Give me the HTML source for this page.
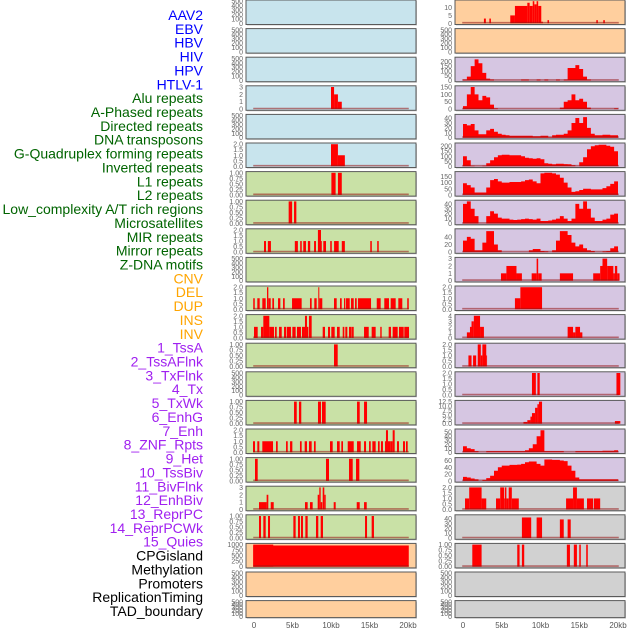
<!DOCTYPE html>
<html><head><meta charset="utf-8"><style>
html,body{margin:0;padding:0;background:#fff;width:630px;height:630px;overflow:hidden}
svg text{font-family:"Liberation Sans",sans-serif}
</style></head><body>
<svg id="chart" width="630" height="630" viewBox="0 0 630 630" xmlns="http://www.w3.org/2000/svg">
<g id="labels"></g>
<g id="panels"></g>
<g id="xaxis"></g>
</svg>
<script>
// ---------- labels ----------
const trackNames = ["AAV2","EBV","HBV","HIV","HPV","HTLV-1","Alu repeats","A-Phased repeats","Directed repeats","DNA transposons","G-Quadruplex forming repeats","Inverted repeats","L1 repeats","L2 repeats","Low_complexity A/T rich regions","Microsatellites","MIR repeats","Mirror repeats","Z-DNA motifs","CNV","DEL","DUP","INS","INV","1_TssA","2_TssAFlnk","3_TxFlnk","4_Tx","5_TxWk","6_EnhG","7_Enh","8_ZNF_Rpts","9_Het","10_TssBiv","11_BivFlnk","12_EnhBiv","13_ReprPC","14_ReprPCWk","15_Quies","CPGisland","Methylation","Promoters","ReplicationTiming","TAD_boundary"];
const trackGroups = ["v","v","v","v","v","v","r","r","r","r","r","r","r","r","r","r","r","r","r","c","c","c","c","c","s","s","s","s","s","s","s","s","s","s","s","s","s","s","s","o","o","o","o","o"];
const groupColors = {v:"#0000ff", r:"#006400", c:"#ffa500", s:"#a020f0", o:"#000000"};

// ---------- x axis ----------
const xTickKb = [0,5,10,15,20];
const xTickLabels = ["0","5kb","10kb","15kb","20kb"];

// ---------- tick sets ----------
const tEmpty = ["0","100","200","300","400","500"];
const t01 = ["0.00","0.25","0.50","0.75","1.00"];
const t02 = ["0.0","0.5","1.0","1.5","2.0"];
const t03 = ["0","1","2","3"];

// ---------- left column data (segments: [startKb, endKb, value]) ----------
const L04 = [[10,10.4,3],[10.4,10.9,2],[10.9,11.4,1]];
const L06 = [[10,10.9,2],[10.9,11.8,1]];
const L07 = [[10.05,10.6,1],[10.9,11.4,1]];
const L08 = [[4.5,4.95,1],[5.2,5.5,1]];
const L09 = [[1.3,1.56,1],[1.8,2.2,1],[5.3,5.7,1],[6.0,6.2,1],[6.4,6.75,1],[7.0,7.3,1],[7.8,8.05,1],[8.3,8.7,2],[8.7,8.8,1],[9.0,9.35,1],[9.9,10.1,1],[10.4,11.0,1],[11.4,11.8,1],[15.1,15.3,1],[16.0,16.2,1]];
const L11 = [[-0.1,0.1,1],[0.43,0.74,1],[1.08,1.52,1],[1.69,1.86,2],[1.86,2.17,1],[2.38,2.6,1],[3.12,3.42,1],[3.77,3.99,1],[4.94,6.19,1],[7.27,7.49,1],[7.83,8.14,1],[8.35,8.48,2],[8.48,8.87,1],[10.39,10.74,1],[11.17,11.39,1],[11.69,11.86,1],[11.95,12.43,1],[12.6,12.95,1],[13.12,13.34,1],[13.5,15.2,1],[15.94,16.45,1],[16.92,17.53,1],[17.75,18.4,1],[18.74,19.26,1],[19.9,20.1,1]];
const L12 = [[0,0.48,1],[0.91,1.21,1],[1.21,1.99,2],[1.99,2.6,1],[2.73,2.95,1],[3.25,3.6,1],[3.9,4.16,1],[4.25,4.8,1],[4.98,5.41,1],[5.58,6.1,1],[6.23,6.62,1],[6.62,6.88,2],[6.88,7.06,1],[7.14,7.49,2],[8.92,9.22,1],[9.61,9.87,1],[10.04,10.48,1],[10.78,11.13,1],[11.52,11.73,1],[11.86,12.12,1],[12.34,12.69,1],[12.73,12.95,1],[14.29,14.9,1],[15.28,15.8,1],[16.4,16.58,1],[17.49,17.79,1],[18.01,18.66,1],[18.83,19.44,1],[19.52,20.13,1]];
const L13 = [[10.39,10.87,1]];
const L15 = [[5.2,5.55,1],[5.84,6.14,1],[8.31,8.7,1],[8.83,9.31,1],[13.38,13.73,1],[14.29,14.68,1]];
const L16 = [[-0.13,0.13,1],[0.43,0.69,1],[1.08,2.47,1],[2.86,3.08,1],[4.16,4.38,1],[4.68,4.98,1],[5.97,6.19,1],[6.58,6.88,1],[7.14,7.49,1],[7.79,8.01,1],[9.87,10.22,1],[10.78,11.13,1],[11.34,11.56,1],[12.17,12.95,1],[13.38,13.86,1],[14.29,14.55,1],[14.94,15.16,1],[15.37,15.8,1],[16.1,16.32,1],[16.49,16.75,1],[17.01,17.14,1],[17.14,17.4,2],[17.4,17.7,1],[17.7,18.01,1],[18.01,18.27,2],[18.57,18.83,1],[19.35,19.61,1],[19.74,19.96,1]];
const L17 = [[0.13,0.48,1],[9.35,9.74,1],[12.34,12.82,1],[13.25,13.68,1]];
const L18 = [[0.65,0.91,1],[0.91,1.64,1],[1.64,1.86,2],[2.17,2.56,1],[6.62,6.97,1],[7.27,7.62,1],[8.27,8.48,2],[8.48,8.66,3],[8.66,8.87,1],[8.92,9.13,3],[9.13,9.31,2],[10.35,10.61,1],[13.34,13.73,1],[14.29,14.64,1]];
const L19 = [[0.65,0.91,1],[1.21,1.52,1],[1.82,2.08,1],[5.11,5.41,1],[5.71,5.97,1],[6.1,6.36,1],[6.67,6.97,1],[8.05,8.35,1],[8.66,8.96,1],[14.42,14.68,1],[15.28,15.58,1]];
const L20 = [[-0.1,20.1,960],[-0.1,2.5,1000]];

// ---------- right column data ----------
// segments
const R01 = [[2.7,2.95,3],[3.4,3.6,3],[6.1,6.7,5],[6.7,8.3,11],[8.3,8.6,13],[8.6,9.0,11],[9.0,9.2,14],[9.2,9.5,12],[9.5,9.7,14],[9.7,10.1,11],[10.1,10.3,1],[10.9,11.1,2],[17.2,17.4,2],[18.1,18.3,2]];
const R10 = [[4.9,5.6,1],[5.6,6.9,2],[6.9,7.6,1],[8.86,9.5,1],[9.5,9.7,3],[9.7,10.15,1],[12.5,14.2,1],[16.8,17.7,1],[17.7,18.0,2],[18.0,18.6,3],[18.6,19.4,2],[19.4,19.6,1],[19.6,19.9,2],[19.9,20.2,1]];
const R11 = [[6.7,7.4,1],[7.4,10.2,2]];
const R12 = [[0.5,0.9,1],[0.9,1.1,2],[1.1,1.4,3],[1.4,2.2,4],[2.2,2.7,2],[13.5,14.2,2],[14.2,14.5,1],[14.5,15.1,2],[15.1,15.4,1]];
const R13 = [[0.7,1.1,1],[1.3,1.7,1],[1.9,2.3,2],[2.3,2.5,1],[2.5,3.0,2],[3.0,3.1,1]];
const R14 = [[8.9,9.4,2],[9.6,9.9,2],[19.8,20.3,2]];
const R15 = [[7.8,8.3,1],[8.3,8.7,2],[8.7,8.9,4],[8.9,9.3,6],[9.3,9.6,9],[9.6,9.8,11],[9.8,10.2,12.5],[19.6,20.3,1.5]];
const R18 = [[0.26,0.8,1],[0.8,2.4,2],[2.4,3.0,1],[4.26,4.8,1],[4.8,5.3,2],[5.3,5.4,1],[5.4,5.6,2],[5.6,5.9,1],[5.9,6.3,2],[6.3,7.2,1],[13.3,14.2,1],[14.2,14.7,2],[14.7,15.6,1],[16.0,16.8,1],[16.9,17.7,1]];
const R19 = [[7.6,8.8,42],[9.5,10.2,42],[12.5,13.0,38],[13.5,13.9,38]];
const R20 = [[1.2,2.4,1],[7.0,7.3,1],[7.6,7.9,1],[13.4,13.8,1],[14.3,14.7,1],[15.0,15.2,1],[15.9,16.1,1]];
// binned curves: 40 bins of 0.5kb from 0 to 20kb
const R03 = [10,40,150,220,180,80,20,10,0,0,0,0,0,0,0,10,10,0,0,10,0,10,0,0,10,0,10,130,130,160,120,40,10,0,0,0,0,0,0,0];
const R04 = [20,100,150,100,60,90,80,30,5,0,0,0,0,0,0,0,0,0,0,0,0,0,0,0,0,10,50,60,100,60,70,50,10,0,0,0,0,0,0,5];
const R05 = [28,25,28,15,7,7,15,18,12,8,6,5,4,4,4,4,4,4,3,3,4,4,1,5,6,6,8,15,30,40,30,42,20,8,5,5,6,6,5,5];
const R06 = [100,60,5,0,0,5,30,60,90,110,115,115,110,110,110,100,85,80,75,80,70,30,25,20,25,25,22,20,10,0,40,90,170,200,210,215,215,205,195,150];
const R07 = [95,80,60,20,20,20,60,120,130,110,100,100,105,105,105,110,120,125,110,95,175,180,180,175,165,140,100,60,25,30,40,50,50,45,45,45,55,70,90,110];
const R08 = [40,45,30,15,0,0,15,25,20,12,10,10,8,7,8,9,10,9,8,10,5,5,6,8,10,15,10,5,10,40,30,45,30,12,5,5,8,10,18,20];
const R09 = [30,40,35,5,5,25,55,55,20,5,0,0,0,0,0,0,0,5,8,8,3,2,0,5,30,55,55,45,25,15,20,10,5,3,0,0,2,3,10,15];
const R16 = [15,10,8,3,0,0,3,3,3,3,3,3,3,3,3,3,5,10,20,40,55,3,3,3,3,3,0,0,0,3,3,3,3,3,3,3,4,4,4,5];
const R17 = [12,10,7,5,0,3,8,15,30,40,45,45,47,47,48,50,55,57,57,50,45,63,63,62,62,60,58,45,30,10,5,5,5,5,5,5,5,5,5,5];

// ---------- panel config ----------
const BL="#c8e4ed", GR="#c9e1a6", OR="#ffcf9e", PU="#d6c6e2", GY="#d1d1d1";
const leftBg   = [BL,BL,BL,BL,BL,BL,GR,GR,GR,GR,GR,GR,GR,GR,GR,GR,GR,GR,GR,OR,OR,OR];
const leftMax  = [500,500,500,3,500,2,1,1,2,500,2,2,1,500,1,2,1,3,1,1000,500,500];
const leftTicks= [tEmpty,tEmpty,tEmpty,t03,tEmpty,t02,t01,t01,t02,tEmpty,t02,t02,t01,tEmpty,t01,t02,t01,t03,t01,["0","250","500","750","1000"],tEmpty,tEmpty];
const leftData = [null,null,null,L04,null,L06,L07,L08,L09,null,L11,L12,L13,null,L15,L16,L17,L18,L19,L20,null,null];

const rightBg   = [OR,OR,PU,PU,PU,PU,PU,PU,PU,PU,PU,PU,PU,PU,PU,PU,PU,GY,GY,GY,GY,GY];
const rightMax  = [14,500,230,150,45,220,180,45,58,3,2,4,2,2,12.5,55,65,2,45,1,500,500];
const rightTicks= [["0","5","10"],tEmpty,["0","50","100","150","200"],["0","50","100","150"],["0","10","20","30","40"],["0","50","100","150","200"],["0","50","100","150"],["0","10","20","30","40"],["0","20","40"],t03,t02,["0","1","2","3","4"],t02,t02,["0.0","2.5","5.0","7.5","10.0","12.5"],["0","10","20","30","40","50"],["0","20","40","60"],t02,["0","10","20","30","40"],t01,tEmpty,tEmpty];
const rightSegs = [R01,null,null,null,null,null,null,null,null,R10,R11,R12,R13,R14,R15,null,null,R18,R19,R20,null,null];
const rightBins = [null,null,R03,R04,R05,R06,R07,R08,R09,null,null,null,null,null,null,R16,R17,null,null,null,null,null];

// ---------- drawing ----------
const NS="http://www.w3.org/2000/svg";
function mk(tag, attrs, parent){const e=document.createElementNS(NS,tag);for(const k in attrs)e.setAttribute(k,attrs[k]);parent.appendChild(e);return e;}
const labelsG=document.getElementById('labels');
const panelsG=document.getElementById('panels');
const xaxisG=document.getElementById('xaxis');

const labelStep=(611-15)/(trackNames.length-1);
trackNames.forEach((n,i)=>{
  const t=mk('text',{x:203,y:15+i*labelStep+5,'text-anchor':'end','font-size':'14',fill:groupColors[trackGroups[i]]},labelsG);
  t.textContent=n;
  
  
});

const ROWS=22, ROWSTEP=28.6;
const cols=[
  {x0:246,x1:416,z:254,s:7.7,bg:leftBg,max:leftMax,ticks:leftTicks,segs:leftData,bins:null,name:'left'},
  {x0:455,x1:625,z:463,s:7.75,bg:rightBg,max:rightMax,ticks:rightTicks,segs:rightSegs,bins:rightBins,name:'right'}
];
cols.forEach(c=>{
  const xs=kb=>c.z+kb*c.s;
  for(let i=0;i<ROWS;i++){
    const top=i*ROWSTEP, h=(i===ROWS-1)?17:24.5;
    const y0=top+h-1.2, y1=top+1.2;
    const ys=v=>y0-(v/c.max[i])*(y0-y1);
    const g=mk('g',{},panelsG);
    
    
    mk('rect',{x:c.x0+1,y:top+1,width:c.x1-c.x0,height:h,fill:'#c8c8c8'},g);
    const bgR=mk('rect',{x:c.x0,y:top,width:c.x1-c.x0,height:h,fill:c.bg[i],stroke:'#5a5a5a','stroke-width':1},g);
    
    
    // ticks
    const tk=c.ticks[i];
    const tmax=c.max[i];
    tk.forEach(lbl=>{
      const v=parseFloat(lbl);
      const t=mk('text',{x:c.x0-3,y:ys(v)+2.5,'text-anchor':'end','font-size':'7',fill:'#666'},g);
      t.textContent=lbl;
      
      
    });
    const hasData=(c.segs[i]||(c.bins&&c.bins[i]));
    if(c.segs[i]){
      c.segs[i].forEach(s=>{
        const r=mk('rect',{x:xs(s[0]),y:ys(s[2]),width:Math.max(0.8,xs(s[1])-xs(s[0])),height:y0-ys(s[2]),fill:'#ff0000'},g);
        
        
      });
    }
    if(c.bins&&c.bins[i]){
      const b=c.bins[i];
      let d='M'+xs(0)+','+y0;
      b.forEach((v,k)=>{d+=' L'+xs(k*0.5)+','+ys(v)+' L'+xs((k+1)*0.5)+','+ys(v);});
      d+=' L'+xs(b.length*0.5)+','+y0+' Z';
      const p=mk('path',{d:d,fill:'#ff0000'},g);
      
      
    }
    if(hasData){
      const l=mk('line',{x1:xs(-0.1),x2:xs(20.1),y1:y0-0.6,y2:y0-0.6,stroke:'rgba(150,20,20,0.55)','stroke-width':1.6},g);
      
      
    }
  }
  xTickKb.forEach((kb,j)=>{
    const t=mk('text',{x:xs(kb),y:628,'text-anchor':'middle','font-size':'8',fill:'#555'},xaxisG);
    t.textContent=xTickLabels[j];
    
    
  });
});
</script>
</body></html>
